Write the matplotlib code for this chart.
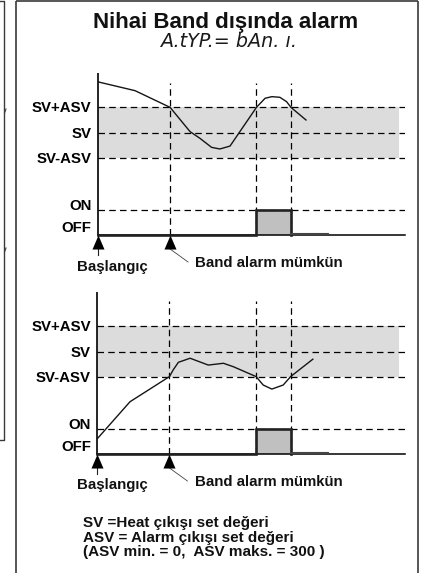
import matplotlib
matplotlib.use("Agg")
import matplotlib.pyplot as plt
from matplotlib.path import Path
from matplotlib.transforms import ScaledTranslation

# ---------------- data ----------------
title = "Nihai Band dışında alarm"
subtitle = "A.tYP.= bAn. ı."
level_names = ["SV+ASV", "SV", "SV-ASV"]
level_values = [78.8, 63.1, 47.7]          # band levels (chart units)
on_level = 15.4
off_level = 0.0
onoff_names = ["ON", "OFF"]
onoff_label_y = [18.5, 5.1]
band_right = 98.0
event_x = [23.6, 51.7, 62.9]               # band enable, alarm on, alarm off
vline_top = 94.0
arrow_x = [0.0, 23.6]
after_pulse_end = 75.0

top_x = [0, 12.2, 23.6, 30.1, 33.3, 37.1, 39.8, 43.1, 46.3, 51.7, 54.5, 56.7, 59.3, 61.5, 62.9, 67.8]
top_y = [94.6, 89.1, 78.8, 63.8, 59.7, 54.1, 53.1, 54.9, 63.8, 78.8, 84.4, 85.4, 85.0, 82.3, 78.8, 71.0]

bot_x = [0, 10.8, 23.6, 24.8, 26.5, 30.3, 36.2, 41.1, 44.3, 51.7, 54.0, 56.8, 60.5, 62.9, 70.1]
bot_y = [9.0, 32.2, 47.7, 51.8, 56.5, 59.0, 54.8, 55.9, 53.8, 47.7, 42.5, 40.0, 42.5, 47.7, 58.4]

start_label = "Başlangıç"
enable_label = "Band alarm mümkün"
notes = ["SV =Heat çıkışı set değeri",
         "ASV = Alarm çıkışı set değeri",
         "(ASV min. = 0,  ASV maks. = 300 )"]

# ---------------- figure ----------------
W, H = 426, 573
DPI = 100
plt.rcParams['font.family'] = ['Liberation Sans', 'DejaVu Sans']
fig = plt.figure(figsize=(W / DPI, H / DPI), dpi=DPI)
fig.patch.set_facecolor("white")

bg = fig.add_axes([0, 0, 1, 1])
bg.set_xlim(0, W)
bg.set_ylim(H, 0)
bg.axis("off")

FS = 10.8
DASH = (0, (5.2, 3.4))

# frame lines
fc = "#3a3a3a"
bg.plot([16, 16], [1, H], color=fc, lw=1.2, solid_capstyle="butt")
bg.plot([418, 418], [1, H], color=fc, lw=1.2, solid_capstyle="butt")
bg.plot([16, 418], [1, 1], color=fc, lw=1.2, solid_capstyle="butt")
# neighbouring box edge on the left
bg.plot([0, 4, 4, 0], [1, 1, 440, 440], color=fc, lw=1.0)
bg.plot([4.5, 6], [113, 109], color=fc, lw=0.8)
bg.plot([4.5, 6], [252, 248], color=fc, lw=0.8)

# titles
bg.text(225.7, 27.6, title, ha="center", va="baseline", fontsize=16,
        fontweight="bold", color="#111111")
bg.text(229, 47.0, subtitle, ha="center", va="baseline", fontsize=13.8,
        fontstyle="italic", family=["DejaVu Sans"], color="#1a1a1a")

# footnotes
for i, s in enumerate(notes):
    bg.text(82.7, 527.3 + i * 14.4, s, ha="left", va="baseline",
            fontsize=11.0, fontweight="bold", color="#111111")

# triangle marker with its tip at the origin
tri = Path([(0, 0), (-6 / 14, -1), (6 / 14, -1), (0, 0)],
           [Path.MOVETO, Path.LINETO, Path.LINETO, Path.CLOSEPOLY])


def chart(px_left, px_top, px_right, px_bottom, cx, cy, startbase, enablebase):
    ax = fig.add_axes([px_left / W, 1 - px_bottom / H,
                       (px_right - px_left) / W, (px_bottom - px_top) / H])
    ax.set_xlim(0, 100)
    ax.set_ylim(0, 100)
    ax.axis("off")
    ux = 100.0 / (px_right - px_left)     # chart units per pixel
    uy = 100.0 / (px_bottom - px_top)

    # band
    ax.fill_between([0, band_right], level_values[2], level_values[0],
                    color="#dcdcdc", lw=0, zorder=1)
    # dashed horizontal levels
    for v in level_values + [on_level]:
        ax.plot([0, 100], [v, v], color="black", lw=0.9, ls=DASH, zorder=2)
    # dashed vertical event lines
    for x in event_x:
        ax.plot([x, x], [0, vline_top], color="black", lw=0.9, ls=DASH, zorder=2)

    # axes
    ax.plot([0, 0], [0, 100], color="black", lw=1.2, zorder=4, clip_on=False,
            solid_capstyle="butt")
    ax.plot([0, 100], [0, 0], color="black", lw=1.1, zorder=4, clip_on=False)

    # alarm output signal
    ax.fill_between([event_x[1], event_x[2]], off_level, on_level,
                    color="#c0c0c0", lw=0, zorder=3)
    ax.plot([0, event_x[1], event_x[1], event_x[2], event_x[2]],
            [off_level, off_level, on_level, on_level, off_level],
            color="#222222", lw=1.9, zorder=5, clip_on=False,
            solid_joinstyle="miter")
    ax.plot([event_x[2], after_pulse_end], [off_level + 0.6, off_level + 0.6],
            color="#444444", lw=1.5, zorder=5)

    # process curve
    ax.plot(cx, cy, color="#151515", lw=1.0, zorder=6)

    # level labels
    off = ScaledTranslation(0, -5.1 / DPI, fig.dpi_scale_trans)
    lx = -5.8 * ux
    for name, v in zip(level_names, level_values):
        ax.text(lx, v, name, ha="right", va="baseline", fontsize=FS,
                fontweight="bold", transform=ax.transData + off, clip_on=False)
    for name, v in zip(onoff_names, onoff_label_y):
        ax.text(lx, v, name, ha="right", va="baseline", fontsize=FS,
                fontweight="bold", transform=ax.transData + off, clip_on=False)

    # arrows
    for x in arrow_x:
        ax.plot([x], [off_level], marker=tri, markersize=20.2, color="black",
                markeredgewidth=0, linestyle="none", clip_on=False, zorder=7)
    ax.plot([arrow_x[0], arrow_x[0]], [-14 * uy, -19.5 * uy], color="#222222",
            lw=0.8, clip_on=False)
    ax.plot([arrow_x[1], arrow_x[1] + 18 * ux], [-14 * uy, -27 * uy],
            color="#444444", lw=0.6, clip_on=False)

    bg.text(77.3, startbase, start_label, ha="left", va="baseline",
            fontsize=FS, fontweight="bold", color="#111111")
    bg.text(195.0, enablebase, enable_label, ha="left", va="baseline",
            fontsize=FS, fontweight="bold", color="#111111")
    return ax


chart(97.5, 73.0, 405.0, 235.0, top_x, top_y, 270.5, 266.7)
chart(96.7, 291.7, 405.0, 454.0, bot_x, bot_y, 489.2, 485.7)

fig.savefig("out.png", dpi=DPI, facecolor="white")
